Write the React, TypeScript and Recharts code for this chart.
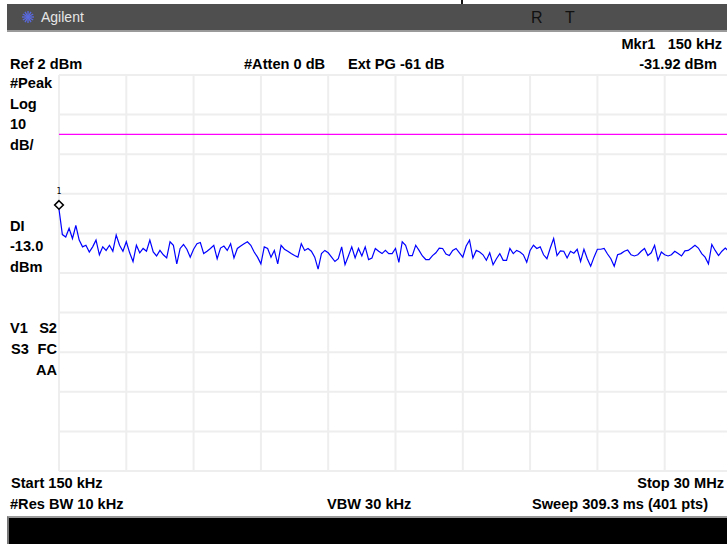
import React from 'react';
import { LineChart, Line, XAxis, YAxis, CartesianGrid, ReferenceLine } from 'recharts';

// sweep settings (MHz / dBm)
const startMHz = 0.15;
const stopMHz = 30;
const refLevel = 2;
const bottomLevel = -98;
const displayLine = -13;

// grid divisions
const xTicks = [0.15, 3.135, 6.12, 9.105, 12.09, 15.075, 18.06, 21.045, 24.03, 27.015, 30];
const yTicks = [2, -8, -18, -28, -38, -48, -58, -68, -78, -88, -98];

// trace, every second sweep point
const traceDbm = [
  -31.9, -38.3, -38.9, -36.7, -39.3, -36.0, -39.7, -41.4, -41.0, -42.7,
  -41.4, -39.7, -43.4, -41.4, -42.3, -41.0, -42.5, -38.4, -41.0, -42.5,
  -40.1, -42.9, -45.1, -41.0, -42.9, -41.8, -42.5, -39.7, -42.7, -43.7,
  -42.3, -43.4, -44.2, -40.1, -41.0, -45.7, -41.8, -40.8, -42.0, -44.0,
  -42.0, -40.6, -40.3, -43.1, -42.5, -41.8, -41.0, -44.4, -41.7, -41.2,
  -42.3, -40.6, -44.2, -41.8, -41.2, -40.6, -40.1, -41.0, -42.7, -44.0,
  -45.7, -41.4, -41.8, -44.0, -42.3, -45.7, -41.0, -42.0, -42.5, -43.1,
  -43.6, -44.0, -40.6, -42.3, -41.8, -42.5, -44.0, -47.0, -43.1, -42.3,
  -42.9, -44.0, -45.1, -44.4, -41.4, -45.9, -43.7, -41.4, -44.2, -41.8,
  -43.7, -41.4, -44.6, -44.2, -41.8, -42.5, -43.1, -42.3, -43.1, -43.1,
  -41.8, -45.3, -40.1, -41.0, -43.6, -43.6, -41.0, -42.3, -43.7, -44.6,
  -44.6, -43.6, -42.9, -41.7, -41.8, -43.2, -43.6, -42.3, -41.8, -42.9,
  -44.0, -41.2, -39.7, -44.2, -42.3, -42.7, -43.4, -44.8, -42.9, -45.9,
  -44.4, -43.1, -44.8, -44.8, -41.8, -43.1, -42.3, -42.7, -43.4, -45.3,
  -42.3, -41.0, -41.8, -41.4, -43.4, -44.4, -41.7, -39.3, -43.6, -42.4,
  -42.5, -44.2, -42.5, -43.0, -42.0, -45.1, -42.0, -44.4, -46.3, -44.0,
  -42.0, -42.0, -41.8, -43.2, -44.4, -46.3, -43.4, -43.1, -42.5, -42.2,
  -43.4, -43.7, -43.4, -42.5, -41.8, -43.6, -42.9, -41.0, -44.8, -42.7,
  -43.4, -43.7, -43.4, -42.5, -43.1, -43.7, -42.4, -42.3, -41.7, -41.0,
  -41.7, -43.1, -44.0, -45.7, -40.8, -42.3, -43.6, -42.5, -41.7, -42.5,
  -43.0,
];

const step = (stopMHz - startMHz) / (traceDbm.length - 1);
const data = traceDbm.map((v, i) => ({ f: startMHz + i * step, v }));

const font = '"Liberation Sans", Arial, sans-serif';

const Txt = ({ x, y, right, children, size = 14.6, weight = 700, color = '#000' }: any) => (
  <div
    style={{
      position: 'absolute',
      top: y - 13,
      left: right === undefined ? x : undefined,
      right: right === undefined ? undefined : 727 - right,
      fontSize: size,
      fontWeight: weight,
      lineHeight: '16px',
      color,
      whiteSpace: 'nowrap',
    }}
  >
    {children}
  </div>
);

// marker 1 sits on the first trace point
const renderDot = (props: any) => {
  const { cx, cy, index } = props;
  if (index !== 0) return <g key={`d${index}`} />;
  return (
    <g key="mkr1">
      <path
        d={`M${cx} ${cy - 8.5} L${cx + 4.3} ${cy - 4.2} L${cx} ${cy} L${cx - 4.3} ${cy - 4.2} Z`}
        fill="#fff"
        stroke="#000"
        strokeWidth={1.6}
      />
      <text x={cx} y={cy - 15} fontSize={8} fontFamily="DejaVu Sans Mono" textAnchor="middle" fill="#000">
        1
      </text>
    </g>
  );
};

const Logo = () => (
  <svg width={16} height={16} style={{ position: 'absolute', left: 20, top: 9 }}>
    {[0, 30, 60, 90, 120, 150].map((a) => {
      const r = (a * Math.PI) / 180;
      return (
        <line
          key={a}
          x1={8 - 6 * Math.cos(r)}
          y1={8 - 6 * Math.sin(r)}
          x2={8 + 6 * Math.cos(r)}
          y2={8 + 6 * Math.sin(r)}
          stroke="#5a6ae0"
          strokeWidth={1.3}
        />
      );
    })}
  </svg>
);

export default function App() {
  return (
    <div
      style={{
        position: 'absolute',
        left: 0,
        top: 0,
        width: 727,
        height: 544,
        background: '#fff',
        overflow: 'hidden',
        fontFamily: font,
      }}
    >
      {/* cut-off title above the bar */}
      <div style={{ position: 'absolute', left: 461, top: 0, width: 2, height: 5, background: '#111' }} />

      {/* top status bar */}
      <div
        style={{
          position: 'absolute',
          left: 7,
          top: 4,
          width: 720,
          height: 26,
          background: '#4f4f4f',
          borderBottom: '2px solid #9a9a9a',
        }}
      />
      <Logo />
      <Txt x={41} y={22} size={14} weight={400} color="#e6e6e6">Agilent</Txt>
      <Txt x={531} y={23} size={16} weight={400} color="#111">R</Txt>
      <Txt x={565} y={23} size={16} weight={400} color="#111">T</Txt>

      <Txt right={722} y={49}>Mkr1&nbsp;&nbsp; 150 kHz</Txt>
      <Txt x={10} y={69}>Ref 2 dBm</Txt>
      <Txt x={244} y={69}>#Atten 0 dB</Txt>
      <Txt x={348} y={69}>Ext PG -61 dB</Txt>
      <Txt right={717} y={69}>-31.92 dBm</Txt>

      <Txt x={10} y={88}>#Peak</Txt>
      <Txt x={10} y={109}>Log</Txt>
      <Txt x={10} y={129}>10</Txt>
      <Txt x={10} y={150}>dB/</Txt>

      <Txt x={10} y={231}>DI</Txt>
      <Txt x={10} y={251}>-13.0</Txt>
      <Txt x={10} y={272}>dBm</Txt>

      <Txt x={10} y={333}>V1</Txt>
      <Txt right={57} y={333}>S2</Txt>
      <Txt x={11} y={354}>S3</Txt>
      <Txt right={57} y={354}>FC</Txt>
      <Txt right={57} y={375}>AA</Txt>

      <Txt x={11} y={488}>Start 150 kHz</Txt>
      <Txt right={724} y={488}>Stop 30 MHz</Txt>
      <Txt x={10} y={509}>#Res BW 10 kHz</Txt>
      <Txt x={327} y={509}>VBW 30 kHz</Txt>
      <Txt right={708} y={509}>Sweep 309.3 ms (401 pts)</Txt>

      {/* bottom black bar */}
      <div
        style={{
          position: 'absolute',
          left: 7,
          top: 516,
          width: 720,
          height: 28,
          background: '#000',
          borderTop: '2px solid #9a9a9a',
          borderLeft: '2px solid #777',
        }}
      />

      <div style={{ position: 'absolute', left: 0, top: 0 }}>
        <LineChart
          width={740}
          height={544}
          data={data}
          margin={{ top: 75, left: 59, right: 8, bottom: 73 }}
        >
          <CartesianGrid stroke="#eeeeee" strokeWidth={2} />
          <XAxis dataKey="f" type="number" domain={[startMHz, stopMHz]} ticks={xTicks} hide />
          <YAxis type="number" domain={[bottomLevel, refLevel]} ticks={yTicks} hide />
          <ReferenceLine y={displayLine} stroke="#ff00ff" strokeWidth={1.2} />
          <Line
            dataKey="v"
            stroke="#0000ff"
            strokeWidth={1.2}
            dot={renderDot}
            activeDot={false}
            isAnimationActive={false}
          />
        </LineChart>
      </div>
    </div>
  );
}
